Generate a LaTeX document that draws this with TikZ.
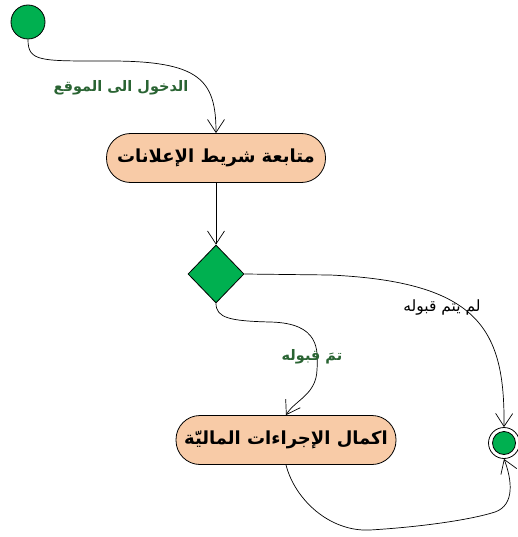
\documentclass[tikz,border=0pt]{standalone}
\usepackage{fontspec}
\TeXXeTstate=1
\newfontfamily\arabicfont[Script=Arabic]{DejaVu Sans}
\usetikzlibrary{shapes.geometric,arrows.meta}
\definecolor{actfill}{HTML}{F8CBA7}
\definecolor{nodegreen}{HTML}{00B050}
\definecolor{labgreen}{HTML}{2A6433}
\tikzset{
  act/.style={draw, fill=actfill, rounded corners=24pt, minimum width=219pt, minimum height=49pt, line width=0.8pt, inner sep=0pt, font=\arabicfont\bfseries\fontsize{18}{21}\selectfont},
  arr/.style={draw, line width=0.7pt, -{Straight Barb[length=13pt,width=17pt]}},
  glab/.style={text=labgreen, font=\arabicfont\bfseries\fontsize{14.5}{16}\selectfont},
  blab/.style={text=black, font=\arabicfont\fontsize{15.5}{17}\selectfont},
}
\begin{document}
\begin{tikzpicture}[x=1pt,y=-1pt]
\useasboundingbox (0,0) rectangle (517,537);
\node[circle, draw, fill=nodegreen, minimum size=34pt, inner sep=0pt, line width=0.8pt] (start) at (28,22) {};
\node[act] (a1) at (216,158) {\beginR متابعة شريط الإعلانات\endR};
\node[diamond, draw, fill=nodegreen, minimum width=56pt, minimum height=58pt, inner sep=0pt, line width=0.8pt] (d) at (216,274) {};
\node[act, minimum width=220pt] (a2) at (286,440) {\beginR اكمال الإجراءات الماليّة\endR};
\node[circle, draw, minimum size=31pt, inner sep=0pt, line width=0.8pt] (f) at (504,443) {};
\node[circle, draw, fill=nodegreen, minimum size=23pt, inner sep=0pt, line width=0.8pt] (fi) at (f) {};

\path[arr] (start.south) .. controls (28,62) and (40,61) .. (110,61) .. controls (200,61) and (216,80) .. (a1.north);
\node[glab] (l1) at (121,88) {\beginR الدخول الى الموقع\endR};

\path[arr] (a1.south) -- (d.north);

\path[arr] (d.south) .. controls (216,318) and (230,321) .. (270,322) .. controls (320,323) and (318,350) .. (317,370) .. controls (316,395) and (295,400) .. (a2.north);
\node[glab] (l2) at (312,357) {\beginR تمَ قبوله\endR};

\path[arr] (d.east) -- (330,275) .. controls (480,282) and (505,330) .. (f.north);
\node[blab] (l3) at (442,308) {\beginR لم يتم قبوله\endR};

\path[arr] (a2.south) .. controls (295,500) and (330,532) .. (370,530) .. controls (420,527) and (470,520) .. (495,512) .. controls (515,505) and (512,480) .. (f.south);
\end{tikzpicture}
\end{document}
